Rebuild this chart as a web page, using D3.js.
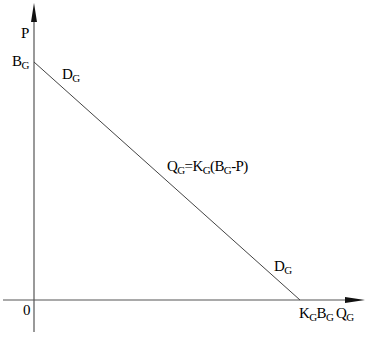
<!DOCTYPE html>
<html><head><meta charset="utf-8">
<script src="https://cdn.jsdelivr.net/npm/d3@7"></script>
<style>body{margin:0;background:#fff}svg{display:block}text{font-family:"Liberation Serif","DejaVu Serif",serif;fill:#000}</style>
</head><body>
<script>
// Demand curve endpoints (normalized: price intercept B_G = 1, quantity intercept K_G*B_G = 1)
const quantities = [0, 1];
const prices = [1, 0];
const axisLabels = ["P", "Q_G", "0"];
const interceptLabels = ["B_G", "K_GB_G"];
const curveLabels = ["D_G", "Q_G=K_G(B_G-P)", "D_G"];

const W = 372, H = 341;
const svg = d3.select("body").append("svg").attr("width", W).attr("height", H);
const x = d3.scaleLinear().domain([0, 1]).range([34, 300]);
const y = d3.scaleLinear().domain([0, 1]).range([300, 62]);

// axes
const axisColor = "#555";
svg.append("line").attr("x1", x(0)).attr("x2", x(0)).attr("y1", 332).attr("y2", 18)
  .attr("stroke", axisColor).attr("stroke-width", 1.2);
svg.append("path").attr("d", `M${x(0)},3 L${x(0)-3},22 L${x(0)+3},22 Z`).attr("fill", "#111");
svg.append("line").attr("x1", 3).attr("x2", 350).attr("y1", y(0)).attr("y2", y(0))
  .attr("stroke", axisColor).attr("stroke-width", 1.2);
svg.append("path").attr("d", `M365,${y(0)} L345,${y(0)-3} L345,${y(0)+3} Z`).attr("fill", "#111");

// demand line
const pts = quantities.map((q, i) => [q, prices[i]]);
svg.append("path").datum(pts)
  .attr("d", d3.line().x(d => x(d[0])).y(d => y(d[1])))
  .attr("stroke", "#444").attr("stroke-width", 1).attr("fill", "none");

// label helper: "_X" means subscript of single char X
function label(str, px, py, anchor) {
  const t = svg.append("text").attr("x", px).attr("y", py).attr("font-size", 15)
    .attr("letter-spacing", -0.6).attr("text-anchor", anchor || "start");
  let i = 0, sub = false;
  while (i < str.length) {
    if (str[i] === "_") {
      t.append("tspan").attr("font-size", 11).attr("dy", 3).text(str[i+1]);
      sub = true; i += 2;
    } else {
      let j = i;
      while (j < str.length && str[j] !== "_") j++;
      const s = t.append("tspan").text(str.slice(i, j));
      if (sub) { s.attr("dy", -3); sub = false; }
      i = j;
    }
  }
  return t;
}

label(axisLabels[0], 21, 38);
label(axisLabels[1], 336, 318);
label(axisLabels[2], x(0) - 11, 315);
label(interceptLabels[0], 12, y(1) + 4);
label(interceptLabels[1], x(1) - 1, 318);
label(curveLabels[0], 62, 79);
label(curveLabels[1], 167, 171);
label(curveLabels[2], 274, 271);
</script>
</body></html>
